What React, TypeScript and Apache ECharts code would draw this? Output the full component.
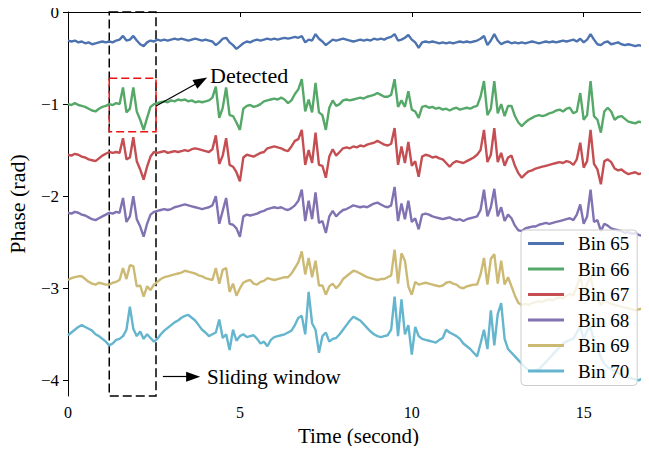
import React, { useEffect, useRef } from "react";
import * as echarts from "echarts";

const SAMPLE_COUNT = 170;
const time: number[] = Array.from({ length: SAMPLE_COUNT }, (_, i) => Number((i * 0.1).toFixed(1)));

const seriesNames = ["Bin 65", "Bin 66", "Bin 67", "Bin 68", "Bin 69", "Bin 70"];
const seriesColors = ["#4C72B0", "#55A868", "#C44E52", "#8172B2", "#CCB974", "#64B5CD"];

const bin65 = [
  -0.31,-0.32,-0.31,-0.33,-0.32,-0.34,-0.33,-0.35,-0.34,-0.33,
  -0.32,-0.33,-0.32,-0.33,-0.31,-0.30,-0.26,-0.31,-0.30,-0.26,
  -0.31,-0.35,-0.37,-0.33,-0.31,-0.32,-0.30,-0.31,-0.30,-0.31,
  -0.30,-0.29,-0.30,-0.29,-0.30,-0.31,-0.30,-0.29,-0.30,-0.31,
  -0.30,-0.31,-0.32,-0.36,-0.33,-0.29,-0.28,-0.33,-0.36,-0.40,
  -0.37,-0.34,-0.32,-0.33,-0.31,-0.30,-0.31,-0.30,-0.29,-0.30,
  -0.29,-0.30,-0.29,-0.28,-0.29,-0.28,-0.27,-0.28,-0.26,-0.33,
  -0.30,-0.31,-0.24,-0.29,-0.32,-0.36,-0.33,-0.30,-0.31,-0.30,
  -0.29,-0.30,-0.31,-0.32,-0.31,-0.30,-0.31,-0.30,-0.31,-0.29,
  -0.30,-0.29,-0.30,-0.28,-0.27,-0.24,-0.31,-0.30,-0.28,-0.25,
  -0.30,-0.33,-0.39,-0.33,-0.32,-0.33,-0.32,-0.33,-0.34,-0.33,
  -0.34,-0.33,-0.34,-0.33,-0.32,-0.33,-0.32,-0.33,-0.32,-0.31,
  -0.29,-0.26,-0.36,-0.31,-0.24,-0.31,-0.35,-0.33,-0.32,-0.34,
  -0.33,-0.34,-0.33,-0.34,-0.33,-0.32,-0.33,-0.34,-0.33,-0.32,
  -0.33,-0.32,-0.33,-0.32,-0.31,-0.32,-0.31,-0.30,-0.32,-0.29,
  -0.33,-0.30,-0.24,-0.30,-0.35,-0.36,-0.33,-0.32,-0.35,-0.34,
  -0.33,-0.35,-0.36,-0.35,-0.36,-0.37,-0.36,-0.37,-0.36,-0.37,
];

const bin66 = [
  -1.00,-1.01,-0.99,-1.01,-1.02,-1.03,-1.05,-1.07,-1.08,-1.05,
  -1.03,-1.02,-1.00,-1.01,-0.99,-1.00,-0.82,-1.09,-1.05,-0.82,
  -1.08,-1.17,-1.28,-1.15,-1.03,-1.00,-0.99,-0.98,-0.97,-0.98,
  -0.96,-0.97,-0.95,-0.96,-0.95,-0.97,-0.96,-0.98,-0.97,-0.98,
  -0.97,-0.96,-0.93,-0.81,-1.15,-1.04,-0.82,-1.12,-1.13,-1.20,
  -1.28,-1.05,-1.02,-1.01,-1.03,-1.02,-1.00,-0.97,-0.96,-0.95,
  -0.94,-0.95,-0.93,-0.95,-0.99,-0.96,-0.89,-0.84,-0.73,-1.08,
  -0.95,-1.09,-0.77,-1.09,-1.12,-1.28,-1.04,-0.96,-1.02,-1.00,
  -0.96,-0.95,-0.96,-0.95,-0.94,-0.93,-0.94,-0.92,-0.91,-0.90,
  -0.88,-0.90,-0.92,-0.92,-0.90,-0.73,-1.03,-0.96,-1.03,-0.86,
  -1.06,-1.08,-1.15,-1.03,-1.02,-1.04,-1.03,-1.05,-1.04,-1.06,
  -1.05,-1.07,-1.05,-1.04,-1.06,-1.05,-1.04,-1.05,-1.03,-1.02,
  -0.92,-0.75,-1.12,-1.05,-0.75,-1.10,-1.00,-1.13,-1.02,-1.02,
  -1.13,-1.20,-1.24,-1.20,-1.17,-1.15,-1.13,-1.12,-1.13,-1.12,
  -1.10,-1.09,-1.07,-1.06,-1.08,-1.05,-1.04,-1.10,-1.08,-0.88,
  -1.17,-1.12,-0.75,-1.13,-1.17,-1.31,-1.08,-1.04,-1.08,-1.17,
  -1.14,-1.13,-1.16,-1.19,-1.20,-1.21,-1.19,-1.20,-1.18,-1.17,
];

const bin67 = [
  -1.55,-1.56,-1.54,-1.55,-1.57,-1.58,-1.60,-1.61,-1.62,-1.59,
  -1.56,-1.54,-1.52,-1.53,-1.52,-1.53,-1.37,-1.60,-1.58,-1.36,
  -1.62,-1.71,-1.82,-1.68,-1.57,-1.52,-1.53,-1.52,-1.51,-1.53,
  -1.52,-1.51,-1.52,-1.51,-1.50,-1.51,-1.49,-1.48,-1.49,-1.50,
  -1.51,-1.52,-1.49,-1.34,-1.65,-1.56,-1.37,-1.66,-1.68,-1.74,
  -1.84,-1.58,-1.55,-1.56,-1.57,-1.55,-1.53,-1.52,-1.48,-1.47,
  -1.46,-1.47,-1.48,-1.50,-1.51,-1.46,-1.40,-1.38,-1.28,-1.66,
  -1.50,-1.64,-1.31,-1.66,-1.67,-1.80,-1.57,-1.49,-1.56,-1.52,
  -1.48,-1.47,-1.48,-1.46,-1.47,-1.45,-1.46,-1.44,-1.43,-1.42,
  -1.40,-1.42,-1.44,-1.45,-1.43,-1.26,-1.66,-1.46,-1.64,-1.41,
  -1.67,-1.62,-1.79,-1.57,-1.55,-1.56,-1.58,-1.57,-1.59,-1.60,
  -1.64,-1.68,-1.64,-1.62,-1.63,-1.64,-1.62,-1.60,-1.58,-1.55,
  -1.50,-1.28,-1.63,-1.55,-1.26,-1.63,-1.53,-1.67,-1.58,-1.56,
  -1.67,-1.75,-1.80,-1.76,-1.73,-1.72,-1.70,-1.69,-1.68,-1.67,
  -1.66,-1.65,-1.64,-1.63,-1.64,-1.62,-1.63,-1.66,-1.60,-1.42,
  -1.69,-1.62,-1.28,-1.65,-1.71,-1.87,-1.62,-1.60,-1.63,-1.70,
  -1.72,-1.71,-1.74,-1.76,-1.75,-1.74,-1.76,-1.75,-1.74,-1.73,
];

const bin68 = [
  -2.18,-2.19,-2.17,-2.18,-2.20,-2.21,-2.23,-2.25,-2.26,-2.24,
  -2.22,-2.20,-2.18,-2.19,-2.17,-2.18,-2.02,-2.28,-2.22,-2.00,
  -2.25,-2.33,-2.44,-2.30,-2.20,-2.17,-2.16,-2.15,-2.14,-2.15,
  -2.14,-2.12,-2.11,-2.10,-2.09,-2.10,-2.11,-2.12,-2.13,-2.14,
  -2.13,-2.12,-2.10,-2.00,-2.30,-2.16,-2.02,-2.30,-2.31,-2.35,
  -2.44,-2.22,-2.20,-2.21,-2.20,-2.19,-2.17,-2.16,-2.14,-2.13,
  -2.12,-2.13,-2.12,-2.14,-2.15,-2.13,-2.10,-2.05,-1.93,-2.27,
  -2.05,-2.25,-1.96,-2.29,-2.27,-2.40,-2.22,-2.16,-2.22,-2.18,
  -2.15,-2.14,-2.12,-2.10,-2.11,-2.12,-2.11,-2.12,-2.10,-2.08,
  -2.07,-2.09,-2.11,-2.12,-2.10,-1.90,-2.27,-2.08,-2.25,-2.05,
  -2.28,-2.24,-2.36,-2.20,-2.19,-2.20,-2.22,-2.23,-2.24,-2.25,
  -2.24,-2.23,-2.25,-2.26,-2.25,-2.27,-2.25,-2.24,-2.23,-2.22,
  -2.15,-1.93,-2.22,-2.12,-1.92,-2.22,-2.12,-2.27,-2.20,-2.24,
  -2.32,-2.37,-2.38,-2.35,-2.34,-2.33,-2.33,-2.31,-2.30,-2.29,
  -2.30,-2.29,-2.28,-2.27,-2.26,-2.25,-2.24,-2.26,-2.20,-2.09,
  -2.30,-2.22,-1.93,-2.28,-2.26,-2.38,-2.30,-2.32,-2.35,-2.36,
  -2.37,-2.38,-2.40,-2.39,-2.41,-2.40,-2.42,-2.43,-2.44,-2.43,
];

const bin69 = [
  -2.91,-2.89,-2.88,-2.87,-2.87,-2.90,-2.93,-2.95,-2.96,-2.94,
  -2.95,-2.96,-2.96,-2.94,-2.93,-2.91,-2.78,-2.90,-2.75,-2.76,
  -2.98,-2.97,-3.09,-2.98,-3.02,-2.96,-2.93,-2.90,-2.88,-2.87,
  -2.86,-2.85,-2.84,-2.83,-2.81,-2.82,-2.83,-2.84,-2.86,-2.87,
  -2.89,-2.90,-2.91,-2.78,-2.95,-2.80,-2.78,-3.04,-2.95,-3.08,
  -3.00,-2.94,-2.92,-2.91,-2.95,-2.96,-2.93,-2.92,-2.89,-2.90,
  -2.91,-2.90,-2.89,-2.88,-2.88,-2.84,-2.78,-2.72,-2.60,-2.85,
  -2.67,-2.88,-2.70,-2.97,-2.97,-3.07,-2.98,-2.95,-3.00,-2.96,
  -2.90,-2.87,-2.84,-2.81,-2.82,-2.84,-2.86,-2.88,-2.89,-2.90,
  -2.91,-2.90,-2.90,-2.88,-2.86,-2.58,-2.95,-2.62,-2.70,-2.98,
  -3.07,-2.93,-2.96,-2.95,-2.94,-2.95,-2.96,-2.97,-2.98,-2.97,
  -2.94,-2.93,-2.95,-2.96,-2.99,-3.00,-2.98,-2.97,-2.96,-2.96,
  -2.85,-2.67,-2.96,-2.68,-2.63,-2.95,-2.70,-2.96,-2.88,-2.98,
  -3.08,-3.16,-3.18,-3.17,-3.18,-3.16,-3.15,-3.14,-3.15,-3.13,
  -3.12,-3.13,-3.11,-3.10,-3.11,-3.08,-3.06,-3.08,-2.98,-2.87,
  -3.05,-2.95,-2.87,-3.05,-3.12,-3.18,-3.14,-3.15,-3.17,-3.18,
  -3.19,-3.20,-3.21,-3.22,-3.23,-3.24,-3.23,-3.22,-3.20,-3.17,
];

const bin70 = [
  -3.51,-3.48,-3.45,-3.42,-3.40,-3.42,-3.44,-3.46,-3.50,-3.52,
  -3.55,-3.58,-3.62,-3.60,-3.56,-3.55,-3.52,-3.45,-3.20,-3.44,
  -3.52,-3.47,-3.55,-3.50,-3.54,-3.58,-3.55,-3.50,-3.46,-3.43,
  -3.40,-3.37,-3.35,-3.32,-3.30,-3.29,-3.32,-3.35,-3.40,-3.45,
  -3.48,-3.52,-3.50,-3.48,-3.34,-3.54,-3.50,-3.67,-3.45,-3.57,
  -3.52,-3.50,-3.53,-3.52,-3.51,-3.55,-3.60,-3.58,-3.63,-3.56,
  -3.53,-3.52,-3.51,-3.50,-3.48,-3.46,-3.40,-3.32,-3.30,-3.50,
  -3.04,-3.38,-3.45,-3.70,-3.52,-3.48,-3.58,-3.55,-3.54,-3.50,
  -3.45,-3.40,-3.35,-3.31,-3.33,-3.35,-3.39,-3.43,-3.47,-3.50,
  -3.52,-3.53,-3.52,-3.51,-3.45,-3.09,-3.52,-3.12,-3.50,-3.40,
  -3.72,-3.42,-3.52,-3.55,-3.56,-3.57,-3.58,-3.59,-3.56,-3.54,
  -3.45,-3.48,-3.50,-3.52,-3.55,-3.60,-3.63,-3.66,-3.70,-3.74,
  -3.60,-3.45,-3.66,-3.24,-3.62,-3.28,-3.16,-3.55,-3.66,-3.70,
  -3.74,-3.78,-3.82,-3.86,-3.89,-3.90,-3.89,-3.88,-3.84,-3.80,
  -3.76,-3.72,-3.68,-3.64,-3.60,-3.58,-3.56,-3.55,-3.48,-3.42,
  -3.55,-3.46,-3.42,-3.58,-3.66,-3.75,-3.82,-3.86,-3.88,-3.90,
  -3.92,-3.94,-3.95,-3.97,-3.98,-3.99,-4.00,-3.98,-3.93,-3.88,
];

const seriesValues = [bin65, bin66, bin67, bin68, bin69, bin70];

const xTicks = [0, 5, 10, 15];
const yTicks = [0, -1, -2, -3, -4];
const xRange = [0, 16.9];
const yRange = [-4.17, 0];

// annotation boxes and arrows (data coordinates)
const windowBox = { t0: 1.2, t1: 2.56 };
const detectedBox = { t0: 1.2, t1: 2.56, v0: -0.72, v1: -1.3 };
const detectedArrow = { from: [2.56, -1.02], to: [3.87, -0.749] };
const slidingArrow = { from: [2.76, -3.96], to: [3.64, -3.96] };

const SERIF = "'Liberation Serif', 'Times New Roman', serif";

export default function App() {
  const ref = useRef<HTMLDivElement>(null);
  useEffect(() => {
    if (!ref.current) return;
    const chart = echarts.init(ref.current, undefined, { renderer: "svg" });
    const series: any[] = seriesNames.map((name, k) => ({
      name,
      type: "line",
      data: time.map((t, i) => [t, seriesValues[k][i]]),
      symbol: "none",
      lineStyle: { width: 2.4, color: seriesColors[k] },
      itemStyle: { color: seriesColors[k] },
      z: 2,
    }));
    series[0].markArea = {
      silent: true,
      label: { show: false },
      data: [
        [
          {
            coord: [windowBox.t0, yRange[1]],
            itemStyle: { color: "rgba(0,0,0,0)", borderColor: "#000", borderWidth: 1.5, borderType: [9, 4] },
          },
          { coord: [windowBox.t1, yRange[0]] },
        ],
        [
          {
            coord: [detectedBox.t0, detectedBox.v0],
            itemStyle: { color: "rgba(0,0,0,0)", borderColor: "#ee1111", borderWidth: 1.5, borderType: [8, 4] },
          },
          { coord: [detectedBox.t1, detectedBox.v1] },
        ],
      ],
    };
    series[0].markLine = {
      silent: true,
      symbol: ["none", "triangle"],
      symbolSize: [10, 14],
      label: { show: false },
      lineStyle: { color: "#000", width: 1.2, type: "solid" },
      data: [
        [{ coord: detectedArrow.from }, { coord: detectedArrow.to }],
        [{ coord: slidingArrow.from }, { coord: slidingArrow.to }],
      ],
    };

    chart.setOption({
      animation: false,
      backgroundColor: "#fff",
      grid: { left: 68, right: 0, top: 12, bottom: 58, containLabel: false, outerBoundsMode: "none" },
      xAxis: [
        {
          type: "value",
          min: xRange[0],
          max: xRange[1],
          name: "Time (second)",
          nameLocation: "middle",
          nameGap: 29,
          nameMoveOverlap: false,
          nameTextStyle: { fontFamily: SERIF, fontSize: 21, color: "#000" },
          axisLine: { show: true, lineStyle: { color: "#000", width: 1 } },
          axisTick: { show: true, length: 5, inside: false, customValues: xTicks, lineStyle: { color: "#000" } },
          axisLabel: { customValues: xTicks, margin: 8, fontFamily: SERIF, fontSize: 16, color: "#000" },
          splitLine: { show: false },
        },
        {
          type: "value",
          position: "top",
          min: xRange[0],
          max: xRange[1],
          axisLine: { show: true, onZero: false, lineStyle: { color: "#000", width: 1 } },
          axisTick: { show: false },
          axisLabel: { show: false },
          splitLine: { show: false },
        },
      ],
      yAxis: {
        type: "value",
        min: yRange[0],
        max: yRange[1],
        name: "Phase (rad)",
        nameLocation: "middle",
        nameGap: 40,
        nameMoveOverlap: false,
        nameTextStyle: { fontFamily: SERIF, fontSize: 22, color: "#000" },
        axisLine: { show: true, onZero: false, lineStyle: { color: "#000", width: 1 } },
        axisTick: { show: true, length: 5, customValues: yTicks, lineStyle: { color: "#000" } },
        axisLabel: {
          customValues: yTicks,
          margin: 9,
          fontFamily: SERIF,
          fontSize: 17,
          color: "#000",
          formatter: (v: number) => (v < 0 ? "\u2212" + Math.abs(v) : String(v)),
        },
        splitLine: { show: false },
      },
      legend: {
        orient: "vertical",
        left: 521,
        top: 230,
        data: seriesNames,
        icon: "rect",
        itemWidth: 36,
        itemHeight: 3,
        itemGap: 6.5,
        padding: [4, 8, 5, 7],
        backgroundColor: "rgba(255,255,255,0.8)",
        borderColor: "#cccccc",
        borderWidth: 1,
        borderRadius: 4,
        textStyle: { fontFamily: SERIF, fontSize: 19, lineHeight: 19, color: "#000", padding: [0, 0, 0, 9] },
      },
      graphic: [
        {
          type: "text",
          left: 210,
          top: 64,
          style: { text: "Detected", font: `22px ${SERIF}`, fill: "#000" },
        },
        {
          type: "text",
          left: 207,
          top: 366,
          style: { text: "Sliding window", font: `21px ${SERIF}`, fill: "#000" },
        },
      ],
      series,
    });
    return () => chart.dispose();
  }, []);
  return <div ref={ref} style={{ width: 649, height: 454, margin: -8 }} />;
}
